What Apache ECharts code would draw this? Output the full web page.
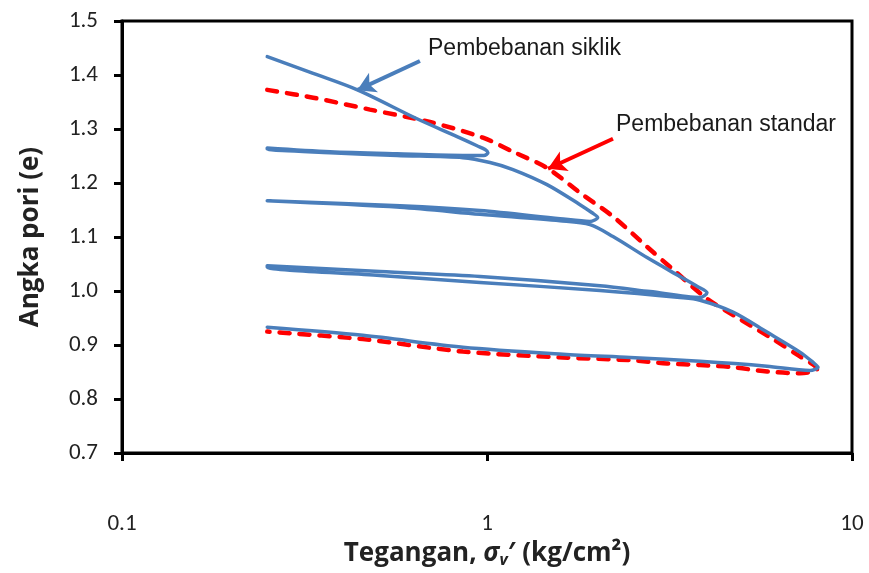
<!DOCTYPE html>
<html>
<head>
<meta charset="utf-8">
<script src="https://cdn.jsdelivr.net/npm/echarts@6/dist/echarts.min.js"></script>
<style>
  html, body { margin: 0; padding: 0; background: #fff; }
  #chart { width: 869px; height: 573px; }
</style>
</head>
<body>
<div id="chart"></div>
<script>
// Cyclic loading path (stress in kg/cm2, void ratio e), in drawing order
const cyclicStress = [
  0.25, 0.334, 0.443, 0.643, 0.828, 0.939, 0.988, 1.006,
  0.981, 0.859, 0.567, 0.3715, 0.25,
  0.25, 0.3715, 0.567, 0.859, 1.019, 1.178, 1.46, 1.798, 1.94, 2.01,
  1.915, 1.585, 0.957, 0.578, 0.25,
  0.25, 0.578, 0.957, 1.585, 1.915, 2.214, 2.744, 3.379, 3.761, 4.006,
  3.833, 2.797, 2.04, 0.957, 0.509, 0.25,
  0.25, 0.509, 0.957, 2.04, 3.379, 3.833, 4.72, 5.849, 7.2, 7.82, 8.07,
  7.67, 5.849, 3.833, 2.466, 1.615, 0.859, 0.457, 0.25
];
const cyclicVoid = [
  1.434, 1.403, 1.372, 1.319, 1.286, 1.269, 1.262, 1.256,
  1.251, 1.251, 1.254, 1.258, 1.265,
  1.263, 1.256, 1.251, 1.247, 1.238, 1.225, 1.197, 1.160, 1.145, 1.136,
  1.129, 1.134, 1.149, 1.158, 1.167,
  1.166, 1.155, 1.142, 1.130, 1.123, 1.101, 1.062, 1.027, 1.009, 0.997,
  0.988, 0.999, 1.010, 1.027, 1.036, 1.047,
  1.044, 1.029, 1.016, 1.001, 0.988, 0.983, 0.961, 0.924, 0.887, 0.868, 0.859,
  0.853, 0.861, 0.870, 0.877, 0.883, 0.896, 0.918, 0.933
];

// Standard loading path
const standardStress = [
  0.25, 0.334, 0.478, 0.698, 0.975, 1.178, 1.46, 1.798, 2.214, 2.744,
  3.233, 4.006, 4.935, 6.075, 7.2, 7.82, 8.02,
  7.67, 7.2, 5.849, 4.72, 3.833, 3.113, 2.466, 1.615, 0.859, 0.457, 0.25
];
const standardVoid = [
  1.3725, 1.358, 1.336, 1.313, 1.284, 1.258, 1.228, 1.182, 1.138, 1.082,
  1.040, 0.986, 0.948, 0.911, 0.879, 0.864, 0.855,
  0.850, 0.848, 0.851, 0.859, 0.863, 0.866, 0.872, 0.877, 0.888, 0.911, 0.925
];

// Axis ranges and tick labels
const xTicks = [0.1, 1, 10];
const yMin = 0.7, yMax = 1.5, yStep = 0.1;

// Annotation labels and the curve points their arrows point to
const cyclicLabel = 'Pembebanan siklik';
const standardLabel = 'Pembebanan standar';
const cyclicArrow = [[0.655, 1.426], [0.441, 1.372]];
const standardArrow = [[2.214, 1.282], [1.469, 1.2265]];

const pairs = (xs, ys) => xs.map((x, i) => [x, ys[i]]);

const BLUE = '#4A7EBB';
const RED = '#FF0000';
const tickFont = 'Carlito, "Open Sans", sans-serif';
const titleFont = '"Open Sans", "Liberation Sans", sans-serif';
const noteFont = '"Liberation Sans", Arial, sans-serif';

const chart = echarts.init(document.getElementById('chart'), null, { renderer: 'canvas' });

chart.setOption({
  backgroundColor: '#ffffff',
  animation: false,
  grid: {
    left: 122, right: 17, top: 21, bottom: 119,
    show: true, borderColor: '#000', borderWidth: 3, backgroundColor: 'transparent'
  },
  xAxis: {
    type: 'log', logBase: 10, min: xTicks[0], max: xTicks[xTicks.length - 1],
    name: '{t|Tegangan, }{s|σ}{v|v}{t|′ (kg/cm²)}',
    nameLocation: 'middle', nameGap: 83,
    nameTextStyle: {
      rich: {
        t: { fontFamily: titleFont, fontSize: 26, fontWeight: 'bold', color: '#222' },
        s: { fontFamily: titleFont, fontSize: 26, fontWeight: 'bold', fontStyle: 'italic', color: '#222' },
        v: { fontFamily: titleFont, fontSize: 16, fontWeight: 'bold', fontStyle: 'italic', color: '#222', padding: [12, 0, 0, 0] }
      }
    },
    axisLine: { lineStyle: { color: '#000', width: 3 } },
    axisTick: { show: true, length: 8, lineStyle: { color: '#000', width: 3 } },
    minorTick: { show: false },
    splitLine: { show: false },
    axisLabel: {
      margin: 60, fontFamily: tickFont, fontSize: 23, color: '#222',
      formatter: v => (v < 1 ? v.toFixed(1) : String(Math.round(v)))
    }
  },
  yAxis: {
    type: 'value', min: yMin, max: yMax, interval: yStep,
    name: 'Angka pori (e)',
    nameLocation: 'middle', nameGap: 78, nameRotate: 90,
    nameTextStyle: { fontFamily: titleFont, fontSize: 26, fontWeight: 'bold', color: '#222' },
    axisLine: { show: true, lineStyle: { color: '#000', width: 3 } },
    axisTick: { show: true, length: 8, lineStyle: { color: '#000', width: 3 } },
    splitLine: { show: false },
    axisLabel: {
      margin: 24, fontFamily: tickFont, fontSize: 23, color: '#222',
      formatter: v => v.toFixed(1)
    }
  },
  series: [
    {
      name: 'standar',
      type: 'line',
      data: pairs(standardStress, standardVoid),
      showSymbol: false,
      smooth: 0.3,
      z: 2,
      lineStyle: { color: RED, width: 4.5, type: [10, 10], cap: 'round' },
      markLine: {
        silent: true,
        symbol: ['none', 'arrow'],
        symbolSize: [16, 18],
        label: { show: false },
        lineStyle: { color: RED, width: 4, type: 'solid' },
        data: [[{ coord: standardArrow[0] }, { coord: standardArrow[1] }]]
      }
    },
    {
      name: 'siklik',
      type: 'line',
      data: pairs(cyclicStress, cyclicVoid),
      showSymbol: false,
      smooth: 0.3,
      z: 3,
      lineStyle: { color: BLUE, width: 3.5, cap: 'round', join: 'round' },
      markLine: {
        silent: true,
        symbol: ['none', 'arrow'],
        symbolSize: [16, 18],
        label: { show: false },
        lineStyle: { color: BLUE, width: 4, type: 'solid' },
        data: [[{ coord: cyclicArrow[0] }, { coord: cyclicArrow[1] }]]
      }
    }
  ],
  graphic: [
    {
      type: 'text', left: 428, top: 37,
      style: { text: cyclicLabel, fontFamily: noteFont, fontSize: 23, fill: '#1a1a1a' }
    },
    {
      type: 'text', left: 616, top: 113,
      style: { text: standardLabel, fontFamily: noteFont, fontSize: 23, fill: '#1a1a1a' }
    }
  ]
});
</script>
</body>
</html>
